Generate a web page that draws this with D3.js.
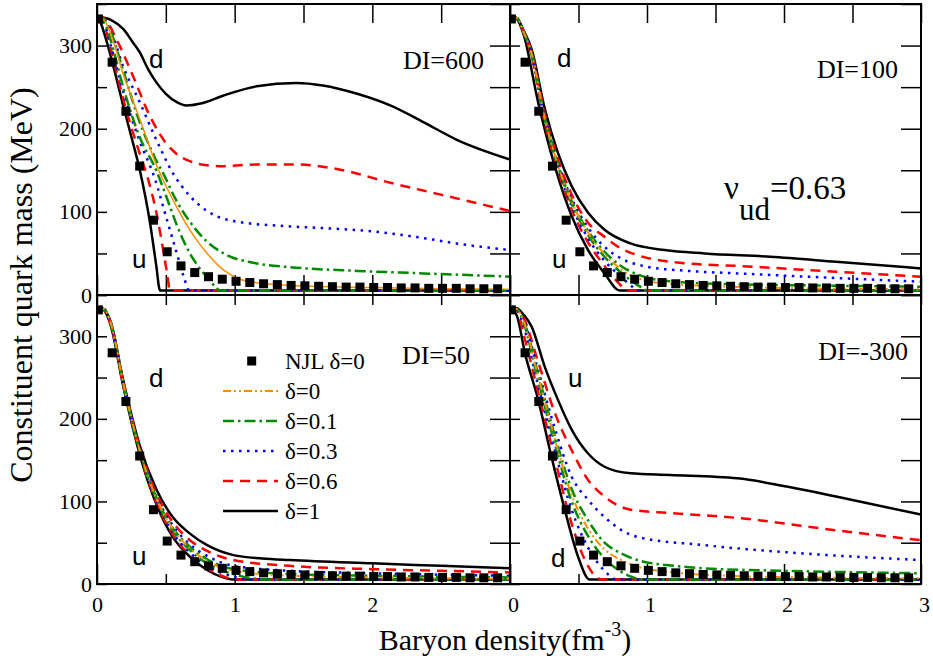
<!DOCTYPE html>
<html>
<head>
<meta charset="utf-8">
<script src="https://cdn.jsdelivr.net/npm/d3@7"></script>
<style>
  html, body { margin: 0; padding: 0; background: #fff; }
  svg { display: block; }
</style>
</head>
<body>
<svg id="chart" width="933" height="666"></svg>
<script>
// ---------------- data ----------------
const densityTicks = [0, 1, 2, 3];
const densityMinorTicks = [0.5, 1.5, 2.5];
const massTicks = [0, 100, 200, 300];
const massMinorTicks = [50, 150, 250, 350];
const panelTitles = ["DI=600", "DI=100", "DI=50", "DI=-300"];
const legendLabels = ["NJL \u03b4=0", "\u03b4=0", "\u03b4=0.1", "\u03b4=0.3", "\u03b4=0.6", "\u03b4=1"];

// NJL reference points (delta = 0), same in every panel
const njlDensity = [0.01, 0.11, 0.21, 0.31, 0.41, 0.51, 0.61, 0.71, 0.81, 0.91,
                    1.01, 1.11, 1.21, 1.31, 1.41, 1.51, 1.61, 1.71, 1.81, 1.91,
                    2.01, 2.11, 2.21, 2.31, 2.41, 2.51, 2.61, 2.71, 2.81, 2.91];
const njlMass = [332, 280, 221, 155, 90, 52, 35, 27, 22, 19,
                 16.5, 15, 13.5, 12.5, 11.5, 11, 10.5, 10, 9.5, 9.5,
                 9, 9, 8.5, 8.5, 8, 8, 8, 7.5, 7.5, 7.5];

// DI = 600 : [density, mass]
const di600_delta0   = [[0,335],[0.05,331],[0.1,314],[0.19,266],[0.31,212],[0.43,157],[0.55,115],[0.675,78],[0.8,50],[0.92,30],[1.04,19],[1.2,14],[1.45,11],[2.0,9],[2.5,7.5],[3,7]];
const di600_delta01d = [[0,335],[0.05,332],[0.1,317],[0.19,270],[0.31,208],[0.43,162],[0.5,140],[0.55,122],[0.675,88],[0.8,64],[0.92,50],[1.16,38],[1.4,33.5],[1.89,29],[2.37,26],[3,22]];
const di600_delta01u = [[0,335],[0.05,330],[0.1,306],[0.19,250],[0.31,190],[0.43,150],[0.5,120],[0.58,84],[0.675,50],[0.77,27],[0.86,10],[0.89,5.5],[3,5.5]];
const di600_delta03d = [[0,335],[0.05,332],[0.1,318],[0.19,275],[0.31,232],[0.43,187],[0.55,147],[0.675,119],[0.8,101],[0.99,89],[1.4,82.5],[1.64,80.5],[2.0,76.5],[2.37,68.5],[2.61,62],[3,54]];
const di600_delta03u = [[0,335],[0.05,328],[0.1,300],[0.19,245],[0.31,185],[0.42,140],[0.5,95],[0.58,50],[0.63,22],[0.67,5.5],[3,5.5]];
const di600_delta06d = [[0,335],[0.05,333],[0.14,308],[0.26,264],[0.385,215],[0.5,183],[0.6,167],[0.675,161],[0.8,156],[0.92,155],[1.16,157],[1.45,157],[1.76,151],[2.13,135],[2.49,121],[3,101]];
const di600_delta06u = [[0,335],[0.05,326],[0.1,296],[0.19,236],[0.31,170],[0.37,140],[0.43,100],[0.48,55],[0.51,25],[0.53,5.5],[3,5.5]];
const di600_delta1d  = [[0,335],[0.1,331],[0.19,320],[0.26,304],[0.31,292],[0.37,272],[0.43,256],[0.5,242],[0.58,232],[0.65,228],[0.77,231],[0.92,240],[1.16,251],[1.45,255],[1.64,252],[1.89,242],[2.13,228],[2.37,208],[2.61,187],[3,163]];
const di600_delta1u  = [[0,335],[0.03,326],[0.07,305],[0.13,268],[0.19,228],[0.25,190],[0.31,151],[0.385,87],[0.43,36],[0.458,5.5],[3,5.5]];

// DI = 100
const di100_delta0   = [[0,335],[0.05,333],[0.1,316],[0.157,291],[0.254,212],[0.35,156],[0.45,112],[0.57,75],[0.69,49],[0.81,31],[1.0,17],[1.2,13],[1.6,10],[2.2,8],[3,7]];
const di100_delta01d = [[0,335],[0.05,333],[0.1,316],[0.157,291],[0.254,213],[0.35,157],[0.45,113],[0.57,77],[0.69,52],[0.81,35],[1.0,21],[1.2,16],[1.6,13],[2.2,11.5],[3,10]];
const di100_delta01u = [[0,335],[0.05,333],[0.1,316],[0.157,290],[0.254,211],[0.35,155],[0.45,110],[0.57,72],[0.69,46],[0.81,27],[0.95,10],[1.0,5.5],[3,5.5]];
const di100_delta03d = [[0,335],[0.05,333],[0.1,317],[0.157,292],[0.254,215],[0.35,159],[0.45,116],[0.57,81],[0.69,58],[0.81,44],[1.0,34],[1.3,29],[1.66,26],[2.3,21],[3,16]];
const di100_delta03u = [[0,335],[0.05,333],[0.1,315],[0.157,289],[0.254,209],[0.35,153],[0.45,107],[0.57,68],[0.69,41],[0.81,22],[0.9,9],[0.93,5.5],[3,5.5]];
const di100_delta06d = [[0,335],[0.05,333],[0.1,317],[0.157,293],[0.254,218],[0.35,163],[0.45,121],[0.57,87],[0.69,70],[0.81,56],[0.93,48],[1.29,38],[1.66,35],[2.38,28],[3,22]];
const di100_delta06u = [[0,335],[0.05,333],[0.1,315],[0.157,288],[0.254,207],[0.35,150],[0.45,103],[0.57,63],[0.69,35],[0.79,15],[0.86,5.5],[3,5.5]];
const di100_delta1d  = [[0,335],[0.05,333],[0.1,318],[0.157,296],[0.254,224],[0.35,171],[0.45,131],[0.57,99],[0.69,78.5],[0.88,62],[1.13,54],[1.42,50],[1.9,46],[2.38,40],[3,32]];
const di100_delta1u  = [[0,335],[0.05,332],[0.1,313],[0.205,232],[0.327,155],[0.45,95],[0.57,54],[0.69,26],[0.8,5.5],[3,5.5]];

// DI = 50
const di50_delta0   = [[0,335],[0.05,333],[0.1,316],[0.19,244],[0.31,162],[0.43,104],[0.55,67],[0.675,43],[0.8,28],[0.99,16],[1.4,10],[2.0,8],[3,6.5]];
const di50_delta01d = [[0,335],[0.05,333],[0.1,316],[0.19,244],[0.31,163],[0.43,105],[0.55,68],[0.675,45],[0.8,30],[0.99,18],[1.4,12],[2.0,10],[3,8]];
const di50_delta01u = [[0,335],[0.05,333],[0.1,316],[0.19,243],[0.31,161],[0.43,103],[0.55,65],[0.675,41],[0.8,25],[0.99,12],[1.15,6.5],[1.2,5.5],[3,5.5]];
const di50_delta03d = [[0,335],[0.05,333],[0.1,316],[0.19,245],[0.31,164],[0.43,107],[0.55,71],[0.675,48],[0.8,34],[0.99,22],[1.4,16],[2.0,13],[3,10]];
const di50_delta03u = [[0,335],[0.05,333],[0.1,315],[0.19,242],[0.31,160],[0.43,101],[0.55,62],[0.675,38],[0.8,22],[0.99,9],[1.1,5.5],[3,5.5]];
const di50_delta06d = [[0,335],[0.05,333],[0.1,317],[0.19,246],[0.31,166],[0.43,110],[0.55,75],[0.675,53],[0.8,40],[0.99,29],[1.4,22],[2.0,18],[2.5,16],[3,14]];
const di50_delta06u = [[0,335],[0.05,332],[0.1,314],[0.19,241],[0.31,159],[0.43,99],[0.55,60],[0.675,35],[0.8,19],[0.99,6],[1.02,5.5],[3,5.5]];
const di50_delta1d  = [[0,335],[0.05,333],[0.1,317],[0.19,247],[0.31,168],[0.43,115],[0.55,81],[0.675,61],[0.8,47],[0.99,35],[1.2,31],[1.4,29],[2.0,25],[2.5,22],[3,19]];
const di50_delta1u  = [[0,335],[0.05,332],[0.1,313],[0.19,240],[0.31,157],[0.43,97],[0.55,57],[0.675,33],[0.8,17],[0.9,9],[0.99,5.5],[3,5.5]];

// DI = -300 (here the u quark is the heavier one)
const dim300_delta0   = [[0,335],[0.05,333],[0.1,318],[0.2,255],[0.33,174],[0.45,108],[0.57,67],[0.69,42],[0.8,30],[0.93,21],[1.2,14],[1.6,10],[2.2,8],[3,7]];
const dim300_delta01u = [[0,335],[0.05,333],[0.1,319],[0.2,258],[0.33,178],[0.45,115],[0.57,77],[0.69,50],[0.8,38],[0.93,29],[1.2,22],[1.42,19],[2,16],[3,13]];
const dim300_delta01d = [[0,335],[0.05,333],[0.1,316],[0.2,250],[0.33,168],[0.45,100],[0.57,58],[0.69,31],[0.8,16],[0.9,8],[0.95,5.5],[3,5.5]];
const dim300_delta03u = [[0,335],[0.05,333],[0.1,320],[0.2,262],[0.33,187],[0.45,130],[0.57,102],[0.69,81],[0.93,57],[1.42,47],[2.14,37],[3,29]];
const dim300_delta03d = [[0,335],[0.05,332],[0.1,312],[0.2,244],[0.33,160],[0.45,90],[0.57,44],[0.69,16],[0.78,5.5],[3,5.5]];
const dim300_delta06u = [[0,335],[0.05,333],[0.1,322],[0.2,272],[0.33,206],[0.45,162],[0.57,126],[0.69,106],[0.88,90],[1.17,86],[1.66,80],[2.38,65],[3,53]];
const dim300_delta06d = [[0,335],[0.05,331],[0.1,302],[0.2,236],[0.33,150],[0.45,73],[0.55,28],[0.62,10],[0.67,5.5],[3,5.5]];
const dim300_delta1u  = [[0,335],[0.05,334],[0.1,326],[0.157,312],[0.254,263],[0.35,223],[0.45,187],[0.57,158],[0.69,142],[0.88,134],[1.17,132],[1.66,128],[2.02,118],[2.38,106],[3,84]];
const dim300_delta1d  = [[0,335],[0.05,325],[0.11,279],[0.206,223],[0.303,154],[0.4,90],[0.497,33],[0.58,5.5],[3,5.5]];

// ---------------- styles ----------------
const styleOf = {
  d0:  { color: "#ff8c00", width: 2,   dash: "8,3,2,3,2,3" },
  d01: { color: "#008b00", width: 2.5, dash: "11,4,2.5,4" },
  d03: { color: "#0000ff", width: 2.5, dash: "2.5,5.5" },
  d06: { color: "#ff0000", width: 2.5, dash: "10,7" },
  d1:  { color: "#000000", width: 2.5, dash: null }
};

const serif = "'Liberation Serif', 'Times New Roman', serif";
const sans = "'Liberation Sans', Arial, sans-serif";

const panels = [
  { title: panelTitles[0], left: 97,  top: 4,   width: 413, height: 291, row: 0, col: 0,
    curves: [["d1", di600_delta1d], ["d1", di600_delta1u], ["d06", di600_delta06d], ["d06", di600_delta06u],
             ["d03", di600_delta03d], ["d03", di600_delta03u], ["d01", di600_delta01d], ["d01", di600_delta01u],
             ["d0", di600_delta0]],
    orangeSolid: true,
    titlePos: [484, 69],
    quarkLabels: [["d", 149, 68], ["u", 132, 268]] },
  { title: panelTitles[1], left: 510, top: 4,   width: 411, height: 291, row: 0, col: 1,
    curves: [["d1", di100_delta1d], ["d1", di100_delta1u], ["d06", di100_delta06d], ["d06", di100_delta06u],
             ["d03", di100_delta03d], ["d03", di100_delta03u], ["d01", di100_delta01d], ["d01", di100_delta01u],
             ["d0", di100_delta0]],
    titlePos: [898, 78],
    quarkLabels: [["d", 557, 67], ["u", 552, 268]] },
  { title: panelTitles[2], left: 97,  top: 295, width: 413, height: 289, row: 1, col: 0,
    curves: [["d1", di50_delta1d], ["d1", di50_delta1u], ["d06", di50_delta06d], ["d06", di50_delta06u],
             ["d03", di50_delta03d], ["d03", di50_delta03u], ["d01", di50_delta01d], ["d01", di50_delta01u],
             ["d0", di50_delta0]],
    titlePos: [470, 364],
    quarkLabels: [["d", 149, 387], ["u", 132, 565]] },
  { title: panelTitles[3], left: 510, top: 295, width: 411, height: 289, row: 1, col: 1,
    curves: [["d1", dim300_delta1u], ["d1", dim300_delta1d], ["d06", dim300_delta06u], ["d06", dim300_delta06d],
             ["d03", dim300_delta03u], ["d03", dim300_delta03d], ["d01", dim300_delta01u], ["d01", dim300_delta01d],
             ["d0", dim300_delta0]],
    titlePos: [908, 360],
    quarkLabels: [["u", 568, 387], ["d", 551, 567]] }
];

const svg = d3.select("#chart");
const defs = svg.append("defs");

panels.forEach((p, i) => {
  const x = d3.scaleLinear().domain([0, 3]).range([p.left, p.left + p.width]);
  const y = d3.scaleLinear().domain([0, 350]).range([p.top + p.height, p.top]);

  defs.append("clipPath").attr("id", "clip" + i)
    .append("rect").attr("x", p.left).attr("y", p.top).attr("width", p.width).attr("height", p.height);

  const g = svg.append("g");

  // axes with inward ticks
  const styleAxis = sel => {
    sel.select(".domain").remove();
    sel.selectAll(".tick line").attr("stroke", "#000").attr("stroke-width", 1.5);
    sel.selectAll(".tick text").attr("font-family", serif).attr("font-size", 22).attr("fill", "#000");
  };
  const showXLabels = p.row === 1;
  const showYLabels = p.col === 0;
  const xLabelVals = p.col === 0 ? [0, 1, 2] : [0, 1, 2, 3];
  const topLen = p.row === 0 ? 19 : 10;
  const bottomMinorLen = p.row === 0 ? 20 : 10;

  const bx = g.append("g").attr("transform", `translate(0,${p.top + p.height})`)
    .call(d3.axisBottom(x).tickValues(densityTicks).tickSize(-20).tickPadding(12)
      .tickFormat(d => (showXLabels && xLabelVals.includes(d)) ? d3.format("d")(d) : ""))
    .call(styleAxis);
  if (p.col === 1) bx.selectAll(".tick text").attr("dx", 3);
  g.append("g").attr("transform", `translate(0,${p.top + p.height})`)
    .call(d3.axisBottom(x).tickValues(densityMinorTicks).tickSize(-bottomMinorLen).tickFormat(""))
    .call(styleAxis);
  g.append("g").attr("transform", `translate(0,${p.top})`)
    .call(d3.axisTop(x).tickValues(densityTicks.concat(densityMinorTicks)).tickSize(-topLen).tickFormat(""))
    .call(styleAxis);
  g.append("g").attr("transform", `translate(${p.left},0)`)
    .call(d3.axisLeft(y).tickValues(massTicks).tickSize(-10).tickPadding(5)
      .tickFormat(d => showYLabels ? d3.format("d")(d) : ""))
    .call(styleAxis);
  g.append("g").attr("transform", `translate(${p.left},0)`)
    .call(d3.axisLeft(y).tickValues(massMinorTicks).tickSize(-10).tickFormat(""))
    .call(styleAxis);
  g.append("g").attr("transform", `translate(${p.left + p.width},0)`)
    .call(d3.axisRight(y).tickValues(massTicks.concat(massMinorTicks)).tickSize(-20).tickFormat(""))
    .call(styleAxis);

  // curves
  const line = d3.line().x(d => x(d[0])).y(d => y(d[1])).curve(d3.curveMonotoneX);
  const cg = g.append("g").attr("clip-path", `url(#clip${i})`);
  p.curves.forEach(([key, data]) => {
    const s = styleOf[key];
    const solidOrange = key === "d0" && p.orangeSolid;
    cg.append("path").datum(data)
      .attr("d", line)
      .attr("fill", "none")
      .attr("stroke", s.color)
      .attr("stroke-width", solidOrange ? 1.5 : s.width)
      .attr("stroke-dasharray", solidOrange ? null : s.dash);
  });

  // NJL squares
  cg.selectAll("rect.njl").data(d3.zip(njlDensity, njlMass)).join("rect")
    .attr("class", "njl")
    .attr("x", d => x(d[0]) - 4.5).attr("y", d => y(d[1]) - 4.5)
    .attr("width", 9).attr("height", 9).attr("fill", "#000");

  // frame
  g.append("rect").attr("x", p.left).attr("y", p.top).attr("width", p.width).attr("height", p.height)
    .attr("fill", "none").attr("stroke", "#000").attr("stroke-width", 2);

  // panel title
  g.append("text").attr("x", p.titlePos[0]).attr("y", p.titlePos[1])
    .attr("text-anchor", "end").attr("font-family", serif).attr("font-size", 26).text(p.title);

  // quark labels
  p.quarkLabels.forEach(([t, lx, ly]) => {
    g.append("text").attr("x", lx).attr("y", ly)
      .attr("font-family", sans).attr("font-size", 26).text(t);
  });
});

// coupling ratio annotation (top-right panel)
const nu = svg.append("text").attr("font-family", serif).attr("font-size", 33).attr("x", 724).attr("y", 199);
nu.append("tspan").text("\u03bd");
nu.append("tspan").attr("font-size", 31).attr("dy", 21).text("ud");
nu.append("tspan").attr("dy", -21).text("=0.63");

// legend (bottom-left panel)
const legX = 223, legY0 = 361, legStep = 30;
const lg = svg.append("g");
lg.append("rect").attr("x", 251.7 - 4.5).attr("y", legY0 - 4.5).attr("width", 9).attr("height", 9).attr("fill", "#000");
const legKeys = ["d0", "d01", "d03", "d06", "d1"];
legKeys.forEach((k, j) => {
  const s = styleOf[k];
  const yy = legY0 + legStep * (j + 1);
  lg.append("line").attr("x1", legX).attr("x2", legX + 55).attr("y1", yy).attr("y2", yy)
    .attr("stroke", s.color).attr("stroke-width", s.width).attr("stroke-dasharray", s.dash);
});
legendLabels.forEach((t, j) => {
  lg.append("text").attr("x", 285).attr("y", legY0 + legStep * j + 8)
    .attr("font-family", serif).attr("font-size", 23).text(t);
});

// axis titles
svg.append("text").attr("transform", "translate(32,285) rotate(-90)")
  .attr("text-anchor", "middle").attr("font-family", serif).attr("font-size", 32)
  .text("Constituent quark mass (MeV)");

const xt = svg.append("text").attr("x", 505).attr("y", 650).attr("text-anchor", "middle")
  .attr("font-family", serif).attr("font-size", 30);
xt.append("tspan").text("Baryon density(fm");
xt.append("tspan").attr("font-size", 20).attr("dy", -14).text("-3");
xt.append("tspan").attr("dy", 14).text(")");
</script>
</body>
</html>
